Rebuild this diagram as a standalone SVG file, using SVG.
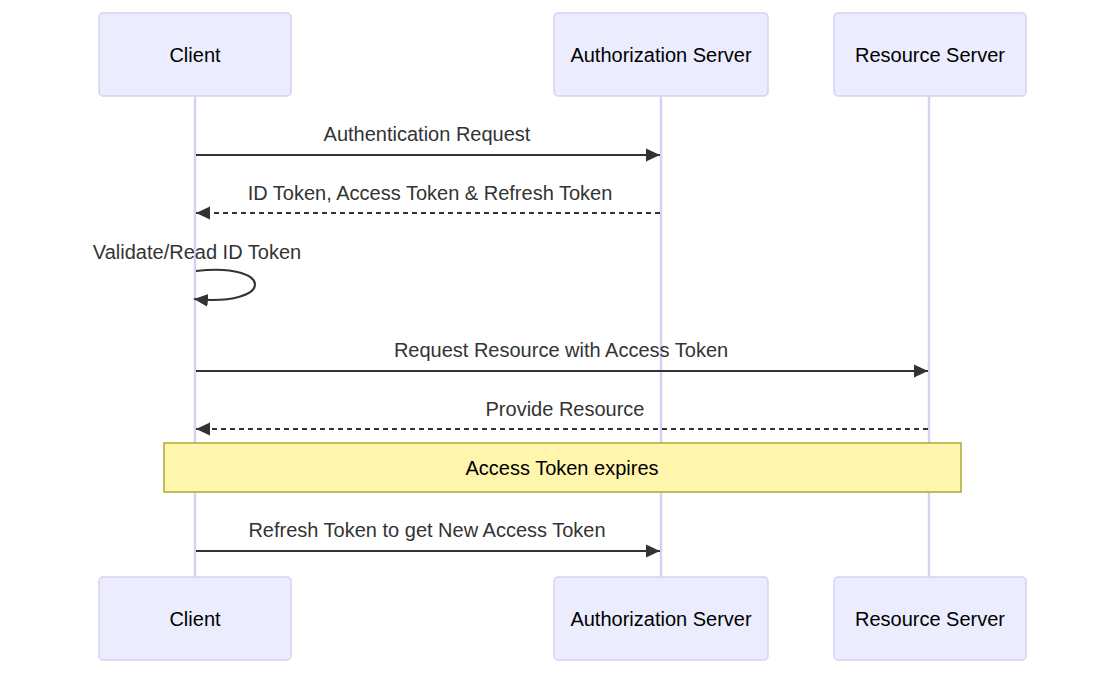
<svg xmlns="http://www.w3.org/2000/svg" width="1116" height="675" viewBox="0 0 1116 675">
<style>
.actor{fill:#ECECFF;stroke:#DACEF3;stroke-width:1.5}
.atext{font-family:"Liberation Sans",Arial,sans-serif;font-size:20px;fill:#000;text-anchor:middle;dominant-baseline:central}
.life{stroke:#DACEF3;stroke-width:2.5}
.msg{stroke:#333;stroke-width:2;fill:none}
.dash{stroke-dasharray:5,4}
.mtext{font-family:"Liberation Sans",Arial,sans-serif;font-size:20px;fill:#333;text-anchor:middle;dominant-baseline:central}
.note{fill:#FFF5AD;stroke:#AAAA33;stroke-width:1.5}
.ntext{font-family:"Liberation Sans",Arial,sans-serif;font-size:20px;fill:#000;text-anchor:middle;dominant-baseline:central}
</style>
<defs>
<marker id="arr" viewBox="0 0 14 14" refX="14" refY="7" markerWidth="14" markerHeight="14" markerUnits="userSpaceOnUse" orient="auto">
<path d="M0,0.5 L14,7 L0,13.5 z" fill="#333"/>
</marker>
</defs>
<rect width="1116" height="675" fill="#fff"/>
<g id="lifelines">
<line class="life" x1="195" y1="96" x2="195" y2="577"/>
<line class="life" x1="661" y1="96" x2="661" y2="577"/>
<line class="life" x1="929" y1="96" x2="929" y2="577"/>
</g>
<g id="actor-client-top"><rect class="actor" x="99" y="13" width="192" height="83" rx="4"/><text class="atext" x="195" y="55">Client</text></g>
<g id="actor-auth-top"><rect class="actor" x="554" y="13" width="214" height="83" rx="4"/><text class="atext" x="661" y="55">Authorization Server</text></g>
<g id="actor-res-top"><rect class="actor" x="834" y="13" width="192" height="83" rx="4"/><text class="atext" x="930" y="55">Resource Server</text></g>
<g id="note-expires"><rect class="note" x="164" y="443" width="797" height="49"/><text class="ntext" x="562" y="468">Access Token expires</text></g>
<g id="connectors">
<line class="msg" x1="196" y1="155" x2="660" y2="155" marker-end="url(#arr)"/>
<text class="mtext" x="427" y="134">Authentication Request</text>
<line class="msg dash" x1="660" y1="213" x2="196" y2="213" marker-end="url(#arr)"/>
<text class="mtext" x="430" y="193">ID Token, Access Token &amp; Refresh Token</text>
<path class="msg" d="M196,271 C275,262 275,307 194,299" marker-end="url(#arr)"/>
<text class="mtext" x="197" y="252">Validate/Read ID Token</text>
<line class="msg" x1="196" y1="371" x2="928" y2="371" marker-end="url(#arr)"/>
<text class="mtext" x="561" y="350">Request Resource with Access Token</text>
<line class="msg dash" x1="928" y1="429" x2="196" y2="429" marker-end="url(#arr)"/>
<text class="mtext" x="565" y="409">Provide Resource</text>
<line class="msg" x1="196" y1="551" x2="660" y2="551" marker-end="url(#arr)"/>
<text class="mtext" x="427" y="530">Refresh Token to get New Access Token</text>
</g>
<g id="actor-client-bottom"><rect class="actor" x="99" y="577" width="192" height="83" rx="4"/><text class="atext" x="195" y="619">Client</text></g>
<g id="actor-auth-bottom"><rect class="actor" x="554" y="577" width="214" height="83" rx="4"/><text class="atext" x="661" y="619">Authorization Server</text></g>
<g id="actor-res-bottom"><rect class="actor" x="834" y="577" width="192" height="83" rx="4"/><text class="atext" x="930" y="619">Resource Server</text></g>
</svg>
